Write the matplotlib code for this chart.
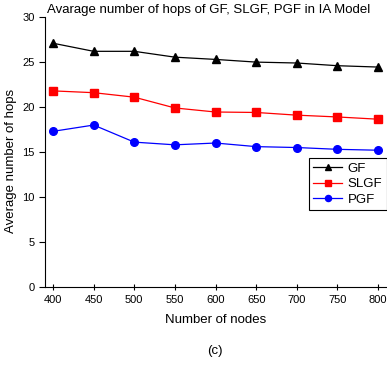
import matplotlib
matplotlib.use("Agg")
import matplotlib.pyplot as plt

plt.rcParams['font.family'] = ['Liberation Sans', 'DejaVu Sans']

nodes = [400, 450, 500, 550, 600, 650, 700, 750, 800]
gf = [27.1, 26.2, 26.2, 25.55, 25.3, 25.0, 24.9, 24.6, 24.45]
slgf = [21.8, 21.6, 21.1, 19.9, 19.45, 19.4, 19.1, 18.9, 18.65]
pgf = [17.3, 18.0, 16.1, 15.8, 16.0, 15.6, 15.5, 15.3, 15.2]

fig = plt.figure(figsize=(3.87, 3.65), dpi=100)
ax = fig.add_axes([0.116, 0.214, 0.884, 0.739])

ax.plot(nodes, gf, color='black', marker='^', markersize=6, linewidth=0.9, label='GF')
ax.plot(nodes, slgf, color='red', marker='s', markersize=5.5, linewidth=0.9, label='SLGF')
ax.plot(nodes, pgf, color='blue', marker='o', markersize=5.5, linewidth=0.9, label='PGF')

ax.set_xlim(390, 811)
ax.set_ylim(0, 30)
ax.set_xticks(nodes)
ax.set_yticks([0, 5, 10, 15, 20, 25, 30])
ax.spines['top'].set_visible(False)
ax.spines['right'].set_visible(False)
ax.tick_params(axis='x', direction='inout', length=5, labelsize=8)
ax.tick_params(axis='y', direction='out', length=4, labelsize=8)

ax.set_xlabel('Number of nodes', fontsize=9.5, labelpad=6)
ax.set_ylabel('Average number of hops', fontsize=9.5)
ax.yaxis.set_label_coords(-0.082, 0.467)
ax.text(0.005, 1.005, 'Avarage number of hops of GF, SLGF, PGF in IA Model',
        transform=ax.transAxes, fontsize=9.5, ha='left', va='bottom')
fig.text(0.556, 0.038, '(c)', fontsize=9.5, ha='center', va='center')

leg = ax.legend(loc='upper right', bbox_to_anchor=(1.0, 0.478), borderaxespad=0,
                fontsize=9.5, fancybox=False, framealpha=1, edgecolor='black',
                markerscale=0.8, borderpad=0.35, labelspacing=0.25,
                handlelength=2.2, handletextpad=0.4)
leg.get_frame().set_linewidth(0.8)

fig.savefig('out.png', dpi=100)
